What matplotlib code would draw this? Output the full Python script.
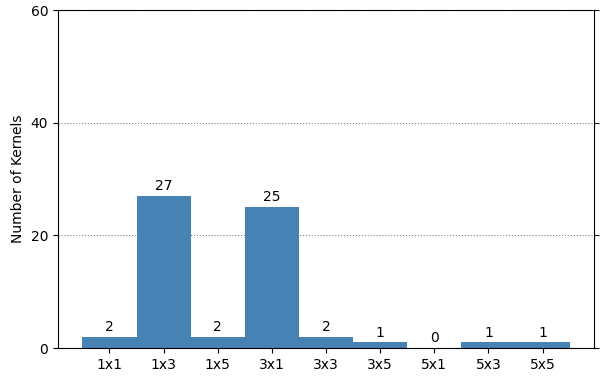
import numpy as np
import matplotlib
matplotlib.use("Agg")
import matplotlib.pyplot as plt

kernels = ["1x1", "1x3", "1x5", "3x1", "3x3", "3x5", "5x1", "5x3", "5x5"]
counts = [2, 27, 2, 25, 2, 1, 0, 1, 1]

fig = plt.figure(figsize=(6.05, 3.85), dpi=100)
ax = fig.add_axes([58 / 605, 1 - 348 / 385, (594 - 58) / 605, (348 - 10) / 385])

x = np.arange(len(kernels))
bars = ax.bar(x, counts, width=1.0, color="steelblue")
for xi, c in zip(x, counts):
    ax.text(xi, c + 0.5, str(c), ha="center", va="bottom", fontsize=10)

ax.set_xticks(x)
ax.set_xticklabels(kernels)
ax.set_ylim(0, 60)
ax.set_yticks([0, 20, 40, 60])
ax.set_ylabel("Number of Kernels")
ax.yaxis.set_ticks_position("both")
ax.grid(axis="y", linestyle=":", color="gray", linewidth=0.8)
ax.set_axisbelow(True)

fig.savefig("out.png", dpi=100)
